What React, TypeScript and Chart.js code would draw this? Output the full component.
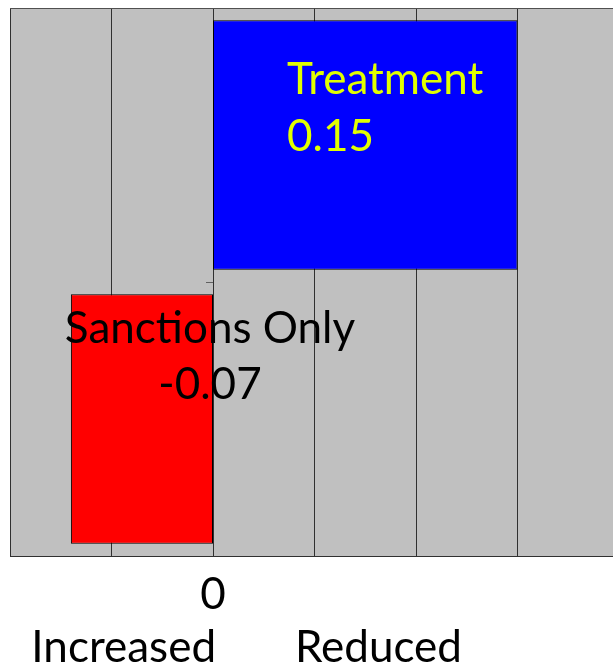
import React, { useEffect, useRef } from "react";
import { Chart, registerables } from "chart.js";

Chart.register(...registerables);

const categories = ["Treatment", "Sanctions Only"];
const values = [0.15, -0.07];
const valueLabels = ["0.15", "-0.07"];
const barColors = ["#0000FF", "#FF0000"];
const labelColors = ["#E1FF00", "#000000"];
const xMin = -0.1;
const xMax = 0.2;
const xStep = 0.05;
const sideLabels = ["Increased", "Reduced"];
const sideLabelValues = [-0.044, 0.0815];

const FONT = "Lato";
const FONT_SIZE = 44;

const decorPlugin = {
  id: "decor",
  beforeDraw(chart: any) {
    const { ctx, chartArea } = chart;
    ctx.save();
    ctx.fillStyle = "#C0C0C0";
    ctx.fillRect(chartArea.left, chartArea.top, chartArea.right - chartArea.left, chartArea.bottom - chartArea.top);
    ctx.restore();
  },
  afterDraw(chart: any) {
    const { ctx, chartArea, scales } = chart;
    ctx.save();
    ctx.strokeStyle = "#505050";
    ctx.lineWidth = 1;
    ctx.beginPath();
    ctx.moveTo(chartArea.left, Math.round(chartArea.top) + 0.5);
    ctx.lineTo(chartArea.right, Math.round(chartArea.top) + 0.5);
    ctx.stroke();

    // bar labels
    const meta = chart.getDatasetMeta(0);
    ctx.font = `${FONT_SIZE}px ${FONT}`;
    ctx.textBaseline = "alphabetic";
    meta.data.forEach((bar: any, i: number) => {
      const top = bar.y - bar.height / 2;
      ctx.fillStyle = labelColors[i];
      if (i === 0) {
        ctx.textAlign = "left";
        const x = bar.base + 74;
        ctx.fillText(categories[i], x, top + 74);
        ctx.fillText(valueLabels[i], x, top + 131);
      } else {
        ctx.textAlign = "center";
        const x = bar.base - 3;
        ctx.fillText(categories[i], x, top + 49);
        ctx.fillText(valueLabels[i], x, top + 105);
      }
    });

    // side labels under axis
    ctx.fillStyle = "#000000";
    ctx.textAlign = "center";
    sideLabels.forEach((t, i) => {
      ctx.fillText(t, scales.x.getPixelForValue(sideLabelValues[i]), 662);
    });
    ctx.restore();
  },
};

export default function App() {
  const ref = useRef<HTMLCanvasElement>(null);
  useEffect(() => {
    document.body.style.margin = "0";
    document.body.style.overflow = "hidden";
    const chart = new Chart(ref.current!, {
      type: "bar",
      data: {
        labels: categories,
        datasets: [
          {
            data: values,
            backgroundColor: barColors,
            borderColor: "#000000",
            borderWidth: 1,
            borderSkipped: false,
            barPercentage: 0.91,
            categoryPercentage: 1,
          },
        ],
      },
      options: {
        indexAxis: "y",
        animation: false,
        responsive: false,
        maintainAspectRatio: false,
        layout: { padding: { left: 10, top: 8, right: 11, bottom: 0 } },
        plugins: { legend: { display: false }, tooltip: { enabled: false } },
        scales: {
          x: {
            type: "linear",
            min: xMin,
            max: xMax,
            ticks: {
              stepSize: xStep,
              color: "#000000",
              font: { family: FONT, size: FONT_SIZE },
              padding: 12,
              callback: (v: any) => (Math.abs(Number(v)) < 1e-9 ? "0" : ""),
            },
            grid: { color: "#303030", lineWidth: 1, drawTicks: false },
            border: { display: true, color: "#303030" },
            afterFit: (scale: any) => {
              scale.height = 113;
              scale.paddingLeft = 0;
              scale.paddingRight = 0;
            },
          },
          y: {
            type: "category",
            position: { x: 0 } as any,
            ticks: { display: false },
            grid: { drawOnChartArea: false, drawTicks: true, tickLength: 7, color: "#606060" },
            border: { display: false },
          },
        },
      },
      plugins: [decorPlugin],
    });
    return () => chart.destroy();
  }, []);
  return (
    <div style={{ position: "fixed", left: 0, top: 0, width: 613, height: 669, overflow: "hidden", background: "#fff" }}>
      <canvas ref={ref} width={630} height={669} style={{ width: 630, height: 669, display: "block" }} />
    </div>
  );
}
